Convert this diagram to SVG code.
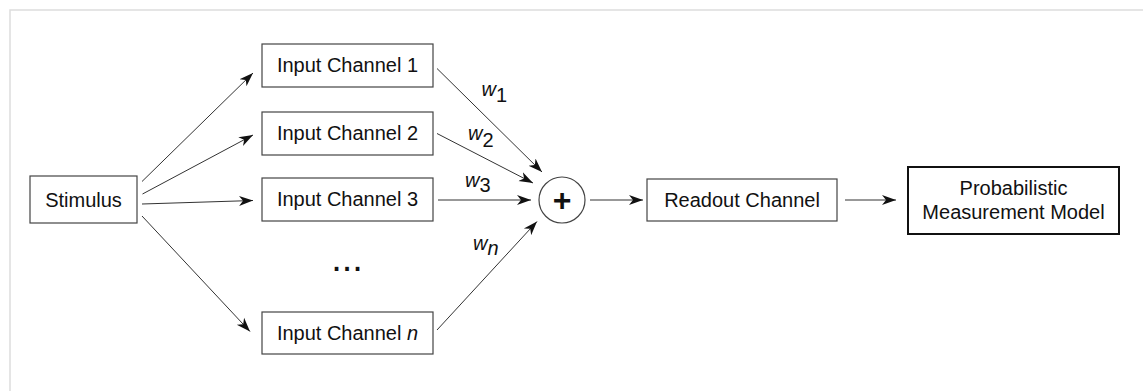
<svg xmlns="http://www.w3.org/2000/svg" width="1143" height="391" viewBox="0 0 1143 391">
<style>
.box{fill:#fff;stroke:#444;stroke-width:1.2}
.boxb{fill:#fff;stroke:#111;stroke-width:2}
.t{font-family:"Liberation Sans",Arial,sans-serif;font-size:20px;fill:#111;text-anchor:middle}
.w{font-family:"Liberation Sans",Arial,sans-serif;font-size:20px;fill:#111}
.c{stroke:#333;stroke-width:1;fill:none;marker-end:url(#ah)}
</style>
<defs>
<marker id="ah" markerUnits="userSpaceOnUse" markerWidth="16" markerHeight="12" refX="14" refY="6" orient="auto">
<path d="M0,1 L14,6 L0,11 L4,6 z" fill="#111"/>
</marker>
</defs>
<rect width="1143" height="391" fill="#fff"/>
<path d="M10,400 V10 H1150" fill="none" stroke="#ddd" stroke-width="1.5"/>
<g id="connectors">
<line class="c" x1="142" y1="181.5" x2="253" y2="73"/>
<line class="c" x1="142.5" y1="194" x2="253" y2="135"/>
<line class="c" x1="142" y1="204" x2="253" y2="200.5"/>
<line class="c" x1="142" y1="216" x2="250" y2="331.5"/>
<line class="c" x1="437" y1="68.5" x2="542" y2="172"/>
<line class="c" x1="437" y1="133.5" x2="533" y2="183"/>
<line class="c" x1="438" y1="200" x2="531" y2="200"/>
<line class="c" x1="437" y1="330" x2="537" y2="221.5"/>
<line class="c" x1="590" y1="200" x2="643" y2="200"/>
<line class="c" x1="845" y1="200" x2="896" y2="200"/>
</g>
<g id="labels">
<text class="w" x="481.5" y="96"><tspan font-style="italic">w</tspan><tspan dy="6">1</tspan></text>
<text class="w" x="468" y="140"><tspan font-style="italic">w</tspan><tspan dy="6.5">2</tspan></text>
<text class="w" x="465" y="186.5"><tspan font-style="italic">w</tspan><tspan dy="5.5">3</tspan></text>
<text class="w" x="473" y="250"><tspan font-style="italic">w</tspan><tspan dy="5" font-style="italic">n</tspan></text>
</g>
<g id="stimulus">
<rect class="box" x="30" y="176" width="107" height="47"/>
<text class="t" x="83.5" y="206.5">Stimulus</text>
</g>
<g id="input1">
<rect class="box" x="262" y="44" width="171" height="43"/>
<text class="t" x="347.5" y="72">Input Channel 1</text>
</g>
<g id="input2">
<rect class="box" x="262" y="112" width="171" height="43"/>
<text class="t" x="347.5" y="140">Input Channel 2</text>
</g>
<g id="input3">
<rect class="box" x="262" y="178" width="171" height="43"/>
<text class="t" x="347.5" y="206">Input Channel 3</text>
</g>
<g id="dots">
<text class="t" x="347" y="271" style="font-size:38px">...</text>
</g>
<g id="inputn">
<rect class="box" x="262" y="312" width="171" height="42"/>
<text class="t" x="347.5" y="340">Input Channel <tspan font-style="italic">n</tspan></text>
</g>
<g id="sum">
<circle cx="562" cy="200" r="23" fill="#fff" stroke="#444" stroke-width="1.2"/>
<text class="t" x="562" y="211" style="font-size:32px;font-weight:bold">+</text>
</g>
<g id="readout">
<rect class="box" x="647" y="179" width="190" height="42"/>
<text class="t" x="742" y="207">Readout Channel</text>
</g>
<g id="model">
<rect class="boxb" x="908" y="167" width="211" height="67"/>
<text class="t" x="1013.5" y="195">Probabilistic</text>
<text class="t" x="1013.5" y="219">Measurement Model</text>
</g>
</svg>
